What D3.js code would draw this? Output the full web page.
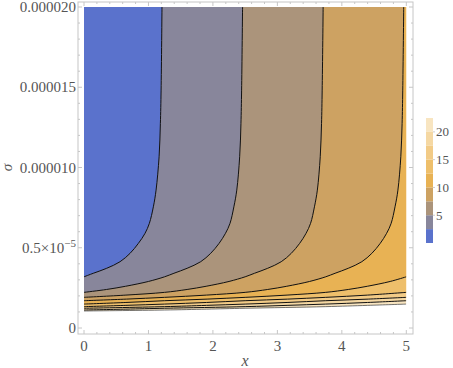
<!DOCTYPE html>
<html>
<head>
<meta charset="utf-8">
<script src="https://cdn.jsdelivr.net/npm/d3@7"></script>
<style>
  body { margin: 0; background: #fff; }
</style>
</head>
<body>
<div id="chart"></div>
<script>
// tick values and labels
var xTicks = [0, 1, 2, 3, 4, 5];
var sigmaTicks = [0, 0.000005, 0.00001, 0.000015, 0.00002];
var sigmaTickLabels = ["0", "0.5×10", "0.000010", "0.000015", "0.000020"];

// contour levels and band colours (band i covers levels[i]-2.5 .. levels[i])
var levels = [2.5, 5, 7.5, 10, 12.5, 15, 17.5, 20, 22.5];
var bandColors = ["#5a72cc", "#88869b", "#ab947b", "#cda262", "#e8b254",
  "#eebf6b", "#f2cb87", "#f5d8a3", "#f8e5c1"];
var legendTicks = [5, 10, 15, 20];

// contour lines: [x, sigma in units of 1e-6]
var contour2_5 = [[0, 3.19], [0.144, 3.41], [0.352, 3.72], [0.559, 4.13], [0.714, 4.65],
  [0.843, 5.27], [0.947, 5.90], [1.014, 6.52], [1.076, 7.55], [1.118, 8.59],
  [1.165, 10.67], [1.185, 12.75], [1.196, 14.82], [1.21, 20]];
var contour5 = [[0, 2.22], [0.35, 2.4], [0.645, 2.6], [1.0, 2.9], [1.25, 3.19],
  [1.395, 3.41], [1.6, 3.72], [1.81, 4.13], [1.965, 4.65], [2.095, 5.27],
  [2.195, 5.90], [2.265, 6.52], [2.325, 7.55], [2.37, 8.59], [2.415, 10.67],
  [2.435, 12.75], [2.445, 14.82], [2.46, 20]];
var contour7_5 = [[0, 1.91], [0.65, 2.05], [1.25, 2.22], [1.6, 2.4], [1.895, 2.6],
  [2.25, 2.9], [2.5, 3.19], [2.645, 3.41], [2.85, 3.72], [3.06, 4.13], [3.215, 4.65],
  [3.345, 5.27], [3.445, 5.90], [3.515, 6.52], [3.575, 7.55], [3.62, 8.59],
  [3.665, 10.67], [3.685, 12.75], [3.695, 14.82], [3.71, 20]];
var contour10 = [[0, 1.70], [0.66, 1.8], [1.25, 1.91], [1.9, 2.05], [2.5, 2.22],
  [2.85, 2.4], [3.145, 2.6], [3.5, 2.9], [3.75, 3.19], [3.895, 3.41], [4.1, 3.72],
  [4.31, 4.13], [4.465, 4.65], [4.595, 5.27], [4.695, 5.90], [4.765, 6.52],
  [4.825, 7.55], [4.87, 8.59], [4.915, 10.67], [4.935, 12.75], [4.945, 14.82], [4.96, 20]];
var contour12_5 = [[0, 1.49], [0.65, 1.59], [1.25, 1.70], [1.91, 1.8], [2.5, 1.91],
  [3.15, 2.05], [3.75, 2.22], [4.1, 2.4], [4.395, 2.6], [4.75, 2.9], [5, 3.19]];
var contour15 = [[0, 1.33], [0.65, 1.41], [1.25, 1.49], [1.9, 1.59], [2.5, 1.70],
  [3.16, 1.8], [3.75, 1.91], [4.4, 2.05], [5, 2.22]];
var contour17_5 = [[0, 1.23], [1.25, 1.33], [1.9, 1.41], [2.5, 1.49], [3.15, 1.59],
  [3.75, 1.70], [4.41, 1.8], [5, 1.91]];
var contour20 = [[0, 1.12], [0.65, 1.175], [1.25, 1.23], [2.5, 1.33], [3.15, 1.41],
  [3.75, 1.49], [4.4, 1.59], [5, 1.70]];
var contour22_5 = [[0, 1.06], [1.25, 1.12], [1.9, 1.175], [2.5, 1.23], [3.75, 1.33],
  [4.4, 1.41], [5, 1.49]];
var contours = [contour2_5, contour5, contour7_5, contour10, contour12_5,
  contour15, contour17_5, contour20, contour22_5];

var serif = "'Liberation Serif', 'Times New Roman', 'DejaVu Serif', serif";

function ContourChart(params) {
  var attrs = Object.assign({
    container: "#chart",
    width: 453,
    height: 368,
    frame: { left: 78, right: 413, top: 2, bottom: 334 },
    xRange: [84, 406.3],
    yRange: [328, 7],
    legend: { x: 426, width: 7, top: 118, bottom: 243 }
  }, params);

  var svg, x, y, line;

  function main() {
    svg = d3.select(attrs.container).append("svg")
      .attr("width", attrs.width)
      .attr("height", attrs.height)
      .attr("font-family", serif);

    x = d3.scaleLinear().domain([0, 5]).range(attrs.xRange);
    y = d3.scaleLinear().domain([0, 0.00002]).range(attrs.yRange);

    line = d3.line()
      .x(d => x(d[0]))
      .y(d => y(d[1] * 1e-6))
      .curve(d3.curveCatmullRom.alpha(0.5));

    svg.append("clipPath").attr("id", "plot-clip")
      .append("rect")
      .attr("x", x(0)).attr("y", y(0.00002))
      .attr("width", x(5) - x(0)).attr("height", y(0) - y(0.00002));

    var plot = svg.append("g").attr("clip-path", "url(#plot-clip)");

    // bands, painted from the highest level down
    for (var i = levels.length - 1; i >= 0; i--) {
      var pts = contours[i];
      var last = pts[pts.length - 1];
      var d = line(pts);
      if (last[1] < 20) d += "L" + x(5) + "," + y(0.00002);
      d += "L" + x(0) + "," + y(0.00002) + "Z";
      plot.append("path")
        .attr("d", d)
        .attr("fill", bandColors[i])
        .attr("stroke", "none");
    }

    // contour lines
    plot.selectAll("path.contour")
      .data(contours)
      .enter().append("path")
      .attr("class", "contour")
      .attr("d", line)
      .attr("fill", "none")
      .attr("stroke", (d, i) => i === contours.length - 1 ? "#3a3a3a" : "#111")
      .attr("stroke-width", (d, i) => i === contours.length - 1 ? 0.7 : 1);

    drawFrame();
    drawLegend();
  }

  function drawFrame() {
    var f = attrs.frame;
    var g = svg.append("g");
    g.append("rect")
      .attr("x", f.left).attr("y", f.top)
      .attr("width", f.right - f.left).attr("height", f.bottom - f.top)
      .attr("fill", "none").attr("stroke", "#c6c6c6").attr("stroke-width", 1);

    // x ticks (major and minor, pointing inward)
    var xMinor = d3.range(0, 5.01, 0.2);
    g.selectAll("line.xt").data(xMinor).enter().append("line")
      .attr("x1", d => x(d)).attr("x2", d => x(d))
      .attr("y1", f.bottom).attr("y2", d => f.bottom - (Math.abs(d - Math.round(d)) < 1e-6 ? 4 : 2))
      .attr("stroke", "#c6c6c6");
    g.selectAll("line.xt2").data(xMinor).enter().append("line")
      .attr("x1", d => x(d)).attr("x2", d => x(d))
      .attr("y1", f.top).attr("y2", d => f.top + (Math.abs(d - Math.round(d)) < 1e-6 ? 4 : 2))
      .attr("stroke", "#c6c6c6");

    g.selectAll("text.xl").data(xTicks).enter().append("text")
      .attr("x", d => x(d)).attr("y", 351)
      .attr("text-anchor", "middle")
      .attr("font-size", 15)
      .attr("fill", "#555")
      .text(d => d);

    // y ticks
    var yMinor = d3.range(0, 0.0000201, 0.000001);
    g.selectAll("line.yt").data(yMinor).enter().append("line")
      .attr("y1", d => y(d)).attr("y2", d => y(d))
      .attr("x1", f.left).attr("x2", (d, i) => f.left + (i % 5 === 0 ? 4 : 2))
      .attr("stroke", "#c6c6c6");
    g.selectAll("line.yt2").data(yMinor).enter().append("line")
      .attr("y1", d => y(d)).attr("y2", d => y(d))
      .attr("x1", f.right).attr("x2", (d, i) => f.right - (i % 5 === 0 ? 4 : 2))
      .attr("stroke", "#c6c6c6");

    var yl = g.selectAll("text.yl").data(sigmaTicks).enter().append("text")
      .attr("x", 76).attr("y", d => y(d) + 5)
      .attr("text-anchor", "end")
      .attr("font-size", 15)
      .attr("fill", "#555")
      .text((d, i) => sigmaTickLabels[i]);
    yl.filter((d, i) => i === 1)
      .append("tspan")
      .attr("dy", -6)
      .attr("font-size", 11)
      .text("−5");

    g.append("text")
      .attr("x", x(2.5)).attr("y", 366)
      .attr("text-anchor", "middle")
      .attr("font-size", 16)
      .attr("font-style", "italic")
      .attr("fill", "#555")
      .text("x");

    g.append("text")
      .attr("transform", "translate(12," + y(0.00001) + ") rotate(-90)")
      .attr("text-anchor", "middle")
      .attr("font-size", 15)
      .attr("font-style", "italic")
      .attr("fill", "#555")
      .text("σ");
  }

  function drawLegend() {
    var l = attrs.legend;
    var ly = d3.scaleLinear().domain([0, 22.5]).range([l.bottom, l.top]);
    var g = svg.append("g");

    g.selectAll("rect").data(levels).enter().append("rect")
      .attr("x", l.x)
      .attr("y", d => ly(d))
      .attr("width", l.width)
      .attr("height", d => ly(d - 2.5) - ly(d))
      .attr("fill", (d, i) => bandColors[i]);

    g.selectAll("line").data(legendTicks).enter().append("line")
      .attr("x1", l.x + l.width).attr("x2", l.x + l.width + 2)
      .attr("y1", d => ly(d)).attr("y2", d => ly(d))
      .attr("stroke", "#ccc");

    g.selectAll("text").data(legendTicks).enter().append("text")
      .attr("x", l.x + l.width + 3)
      .attr("y", d => ly(d) + 4.5)
      .attr("font-size", 13)
      .attr("fill", "#555")
      .text(d => d);
  }

  return main;
}

ContourChart({})();
</script>
</body>
</html>
